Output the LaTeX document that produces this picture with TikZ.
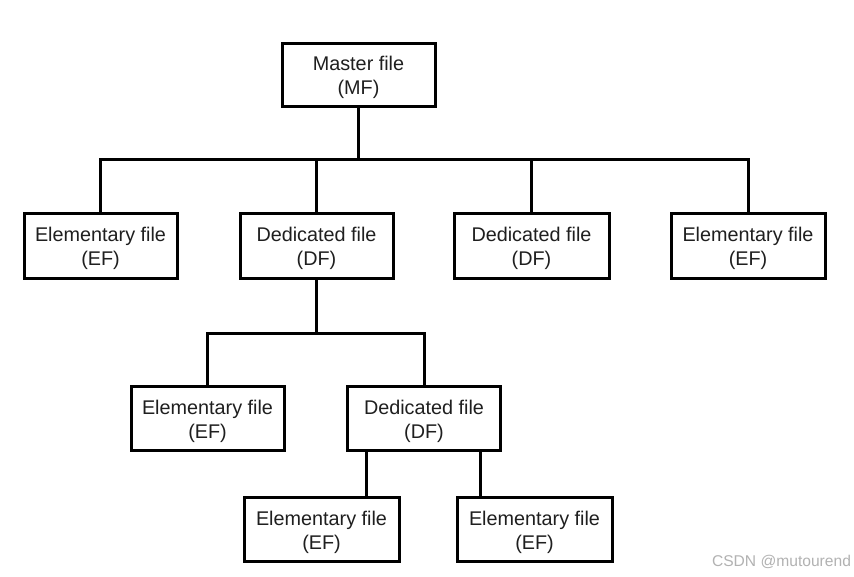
\documentclass[tikz,border=0pt]{standalone}
\usepackage{fontspec}
\setmainfont{Liberation Sans}
\begin{document}
\begin{tikzpicture}[x=1pt,y=-1pt,
  filebox/.style={draw=black,line width=3pt,fill=white,minimum width=153pt,minimum height=64pt,
    inner sep=0pt,label={[ftext]center:#1}},
  ftext/.style={align=center,inner sep=0pt,yshift=-3pt,font=\fontsize{19.8}{24}\selectfont,text=black!88},
  link/.style={line width=3pt,draw=black}]
\useasboundingbox[fill=white] (0,0) rectangle (854,576);
\node[filebox={Master file\\(MF)},minimum height=63pt] (MF) at (358.5,74.5) {};
\node[filebox={Elementary file\\(EF)},minimum height=65pt] (EF1) at (100.5,245.5) {};
\node[filebox={Dedicated file\\(DF)},minimum height=65pt] (DF1) at (316.5,245.5) {};
\node[filebox={Dedicated file\\(DF)},minimum height=65pt,minimum width=155pt] (DF2) at (531.5,245.5) {};
\node[filebox={Elementary file\\(EF)},minimum height=65pt,minimum width=154pt] (EF2) at (748,245.5) {};
\node[filebox={Elementary file\\(EF)}] (EF3) at (207.5,418) {};
\node[filebox={Dedicated file\\(DF)}] (DF3) at (424,418) {};
\node[filebox={Elementary file\\(EF)},minimum width=155pt] (EF4) at (321.5,529) {};
\node[filebox={Elementary file\\(EF)},minimum width=155pt] (EF5) at (534.5,529) {};
\coordinate (b1) at (358.5,159.5);
\coordinate (b2) at (316.5,333);
\draw[link] (MF.south) -- (b1);
\draw[link] (b1) -| (EF1.north);
\draw[link] (b1) -| (EF2.north);
\draw[link] (DF1.north) -- (DF1.north |- b1);
\draw[link] (DF2.north) -- (DF2.north |- b1);
\draw[link] (DF1.south) -- (b2);
\draw[link] (b2) -| (EF3.north);
\draw[link] (b2) -| (DF3.north);
\draw[link] ([xshift=-58pt]DF3.south) -- ([xshift=-58pt]DF3.south |- EF4.north);
\draw[link] ([xshift=56pt]DF3.south) -- ([xshift=56pt]DF3.south |- EF5.north);
\node[font=\fontsize{15.6}{18}\selectfont,text=black!30,inner sep=0pt] (wm) at (781.5,561.5) {CSDN @mutourend};
\end{tikzpicture}
\end{document}
